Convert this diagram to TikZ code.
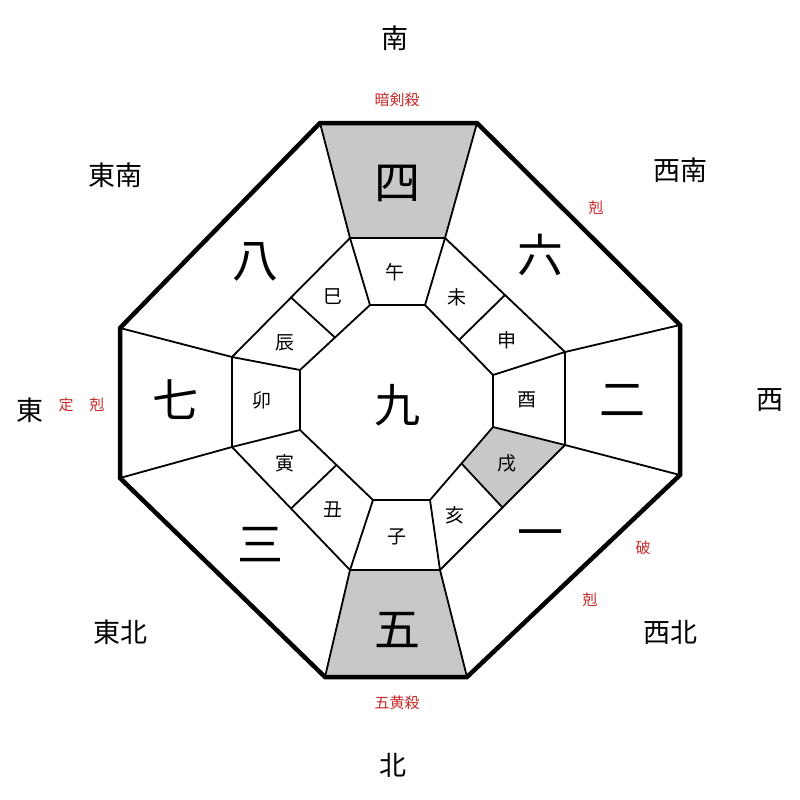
\documentclass[tikz,border=0pt]{standalone}
\usepackage{fontspec}
\usetikzlibrary{calc}
\newfontfamily\cjk{Noto Sans CJK JP}
\definecolor{redlbl}{RGB}{200,40,40}
\definecolor{cellgray}{RGB}{200,200,200}
\begin{document}
\begin{tikzpicture}[x=1pt,y=-1pt,
  big/.style={font=\cjk\fontsize{46}{46}\selectfont},
  dir/.style={font=\cjk\fontsize{27}{27}\selectfont},
  br/.style={font=\cjk\fontsize{19}{19}\selectfont},
  red/.style={font=\cjk\fontsize{15}{15}\selectfont,text=redlbl},
  thin/.style={line width=1.8pt},
  thick/.style={line width=4.5pt,line join=miter}]
\fill[white] (0,0) rectangle (800,800);
\useasboundingbox (0,0) rectangle (800,800);
\coordinate (O1) at (320,123); \coordinate (O2) at (477,123);
\coordinate (O3) at (680,325); \coordinate (O4) at (680,475);
\coordinate (O5) at (467,677); \coordinate (O6) at (325,677);
\coordinate (O7) at (120,478); \coordinate (O8) at (120,328);
\coordinate (M1) at (350,238); \coordinate (M2) at (445,238);
\coordinate (M3) at (565,352); \coordinate (M4) at (565,445);
\coordinate (M5) at (440,570); \coordinate (M6) at (350,570);
\coordinate (M7) at (232,447); \coordinate (M8) at (232,357);
\coordinate (I1) at (370,305); \coordinate (I2) at (425,305);
\coordinate (I3) at (493,375); \coordinate (I4) at (493,427);
\coordinate (I5) at (430,500); \coordinate (I6) at (373,500);
\coordinate (I7) at (300,430); \coordinate (I8) at (300,370);
\coordinate (A1) at ($(M2)!0.5!(M3)$); \coordinate (B1) at ($(I2)!0.5!(I3)$);
\coordinate (A2) at ($(M4)!0.5!(M5)$); \coordinate (B2) at ($(I4)!0.5!(I5)$);
\coordinate (A3) at ($(M6)!0.5!(M7)$); \coordinate (B3) at ($(I6)!0.5!(I7)$);
\coordinate (A4) at ($(M8)!0.5!(M1)$); \coordinate (B4) at ($(I8)!0.5!(I1)$);
\fill[cellgray] (O1)--(O2)--(M2)--(M1)--cycle;
\fill[cellgray] (O6)--(O5)--(M5)--(M6)--cycle;
\fill[cellgray] (M4)--(A2)--(B2)--(I4)--cycle;
\draw[thin] (M1)--(M2)--(M3)--(M4)--(M5)--(M6)--(M7)--(M8)--cycle;
\draw[thin] (I1)--(I2)--(I3)--(I4)--(I5)--(I6)--(I7)--(I8)--cycle;
\foreach \k in {1,...,8} {\draw[thin] (O\k)--(M\k); \draw[thin] (M\k)--(I\k);}
\foreach \k in {1,...,4} {\draw[thin] (A\k)--(B\k);}
\draw[thick] (O1)--(O2)--(O3)--(O4)--(O5)--(O6)--(O7)--(O8)--cycle;
\node[big] (n4) at (397,183) {四}; \node[big] (n6) at (540,255) {六};
\node[big] (n2) at (622,400) {二}; \node[big] (n1) at (540,540) {一};
\node[big] (n5) at (397,630) {五}; \node[big] (n3) at (260,545) {三};
\node[big] (n7) at (175,400) {七}; \node[big] (n8) at (255,262) {八};
\node[big] (n9) at (397,405) {九};
\node[br] (b1) at (395,272) {午}; \node[br] (b2) at (457,297) {未};
\node[br] (b3) at (507,340) {申}; \node[br] (b4) at (527,400) {酉};
\node[br] (b5) at (507,463) {戌}; \node[br] (b6) at (455,515) {亥};
\node[br] (b7) at (397,537) {子}; \node[br] (b8) at (333,510) {丑};
\node[br] (b9) at (285,463) {寅}; \node[br] (b10) at (262,400) {卯};
\node[br] (b11) at (285,343) {辰}; \node[br] (b12) at (333,297) {巳};
\node[dir] (d1) at (395,38) {南}; \node[dir] (d2) at (393,765) {北};
\node[dir] (d3) at (30,410) {東}; \node[dir] (d4) at (770,400) {西};
\node[dir] (d5) at (115,175) {東南}; \node[dir] (d6) at (680,170) {西南};
\node[dir] (d7) at (120,632) {東北}; \node[dir] (d8) at (670,632) {西北};
\node[red] (r1) at (397,100) {暗剣殺}; \node[red] (r2) at (397,703) {五黄殺};
\node[red] (r3) at (596,208) {剋}; \node[red] (r4) at (66,405) {定};
\node[red] (r5) at (97,405) {剋}; \node[red] (r6) at (643,548) {破};
\node[red] (r7) at (590,600) {剋};
\end{tikzpicture}
\end{document}
